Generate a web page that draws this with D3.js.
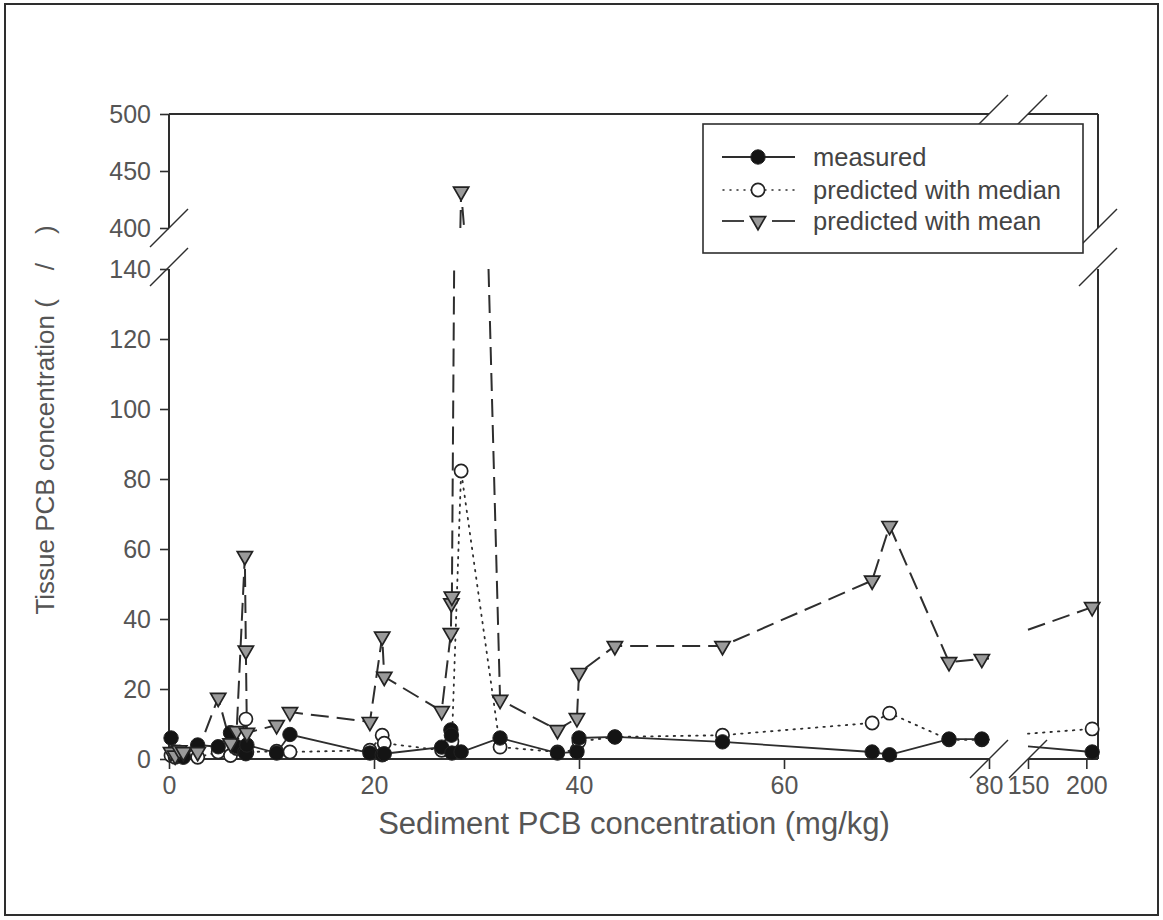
<!DOCTYPE html>
<html>
<head>
<meta charset="utf-8">
<script src="https://cdn.jsdelivr.net/npm/d3@7"></script>
<style>
  body { margin: 0; background: #fff; }
  svg { display: block; font-family: "Liberation Sans", Arial, sans-serif; }
</style>
</head>
<body>
<svg id="chart" width="1163" height="920"></svg>
<script>
// sediment PCB (mg/kg) for each sample
const sediment = [0.2, 0.6, 1.0, 1.4, 2.8, 4.8, 6.0, 6.6, 7.4, 7.5, 7.6, 10.5, 11.8, 19.6, 20.8, 21.0,
  26.6, 27.5, 27.55, 27.6, 28.5, 32.3, 37.9, 39.8, 40.0, 43.5, 54.0, 68.6, 70.3, 76.1, 79.3, 205];
// tissue PCB
const measured = [6, 2, 1, 0.5, 4, 3.5, 7.5, 3.5, 2, 1.5, 4, 1.7, 7, 1.7, 1.2, 1.5,
  3.4, 8.3, 6.8, 1.7, 2, 6, 1.7, 2, 6, 6.3, 4.9, 2, 1.2, 5.7, 5.7, 2];
const predMedian = [1, 0.5, 2, 1, 0.5, 2, 1, 3, 2.5, 11.4, 2, 2.2, 2, 2.5, 6.8, 4.5,
  2.5, 3, 4, 5, 82.3, 3.4, 2, 2.5, 5, 6.3, 6.8, 10.3, 13.1, 5.5, 5.5, 8.6];
const predMean = [2, 1, 2.5, 2, 2, 17.5, 4.5, 8, 58, 31, 7.5, 9.7, 13.4, 10.6, 35, 23.5,
  13.7, 36, 44.5, 46.4, 432, 16.9, 8.3, 11.7, 24.6, 32.3, 32.3, 51, 66.6, 27.7, 28.6, 43.4];

const xTicks = [0, 20, 40, 60, 80, 150, 200];
const yTicks = [0, 20, 40, 60, 80, 100, 120, 140, 400, 450, 500];
const legendNames = ['measured', 'predicted with median', 'predicted with mean'];

// broken axes
const xBreak = [80, 150], yBreak = [140, 400];

const svg = d3.select('#chart');
const ink = '#2e2e2e', txt = '#555';

const x = d3.scaleLinear().domain([0, 80, 150, 210]).range([169, 989, 1028, 1098]);
const y = d3.scaleLinear().domain([0, 140, 400, 500]).range([759, 269, 228, 114]);

// outer frame
svg.append('rect')
  .attr('x', 5).attr('y', 4).attr('width', 1153).attr('height', 911)
  .attr('fill', 'none').attr('stroke', ink).attr('stroke-width', 2);

// axes
const yAxis = svg.append('g')
  .attr('transform', 'translate(169,0)')
  .call(d3.axisLeft(y).tickValues(yTicks).tickSize(9).tickSizeOuter(0).tickPadding(9));
yAxis.select('.domain').remove();
yAxis.selectAll('line').attr('stroke', ink).attr('stroke-width', 1.6);
yAxis.selectAll('text').attr('fill', txt).style('font-size', '25px');

const xAxis = svg.append('g')
  .attr('transform', 'translate(0,759)')
  .call(d3.axisBottom(x).tickValues(xTicks).tickSize(10).tickSizeOuter(0).tickPadding(7));
xAxis.select('.domain').remove();
xAxis.selectAll('line').attr('stroke', ink).attr('stroke-width', 1.6);
xAxis.selectAll('text').attr('fill', txt).style('font-size', '25px');

// frame segments (with gaps at the breaks)
const frame = svg.append('g').attr('stroke', ink).attr('stroke-width', 2).attr('fill', 'none');
[[0, yBreak[0]], [yBreak[1], 500]].forEach(([a, b]) => {
  frame.append('line').attr('x1', x(0)).attr('x2', x(0)).attr('y1', y(a)).attr('y2', y(b));
  frame.append('line').attr('x1', x(210)).attr('x2', x(210)).attr('y1', y(a)).attr('y2', y(b));
});
[[0, xBreak[0]], [xBreak[1], 210]].forEach(([a, b]) => {
  frame.append('line').attr('y1', y(0)).attr('y2', y(0)).attr('x1', x(a)).attr('x2', x(b));
  frame.append('line').attr('y1', y(500)).attr('y2', y(500)).attr('x1', x(a)).attr('x2', x(b));
});

// break slashes
const slash = (cx, cy) => frame.append('line')
  .attr('x1', cx - 19).attr('y1', cy + 19).attr('x2', cx + 19).attr('y2', cy - 19)
  .attr('stroke-width', 1.4);
[y(yBreak[0]) - 2, y(yBreak[1])].forEach(cy => { slash(x(0), cy); slash(x(210), cy); });
[x(xBreak[0]), x(xBreak[1])].forEach(cx => { slash(cx, y(0)); slash(cx, y(500)); });

// line through the data, leaving out the parts inside the breaks
function brokenPath(xs, ys) {
  const p = d3.path();
  let penAt = null;
  for (let i = 0; i < xs.length - 1; i++) {
    const ax = xs[i], ay = ys[i], bx = xs[i + 1], by = ys[i + 1];
    const ts = [0, 1];
    xBreak.forEach(v => { if ((ax - v) * (bx - v) < 0) ts.push((v - ax) / (bx - ax)); });
    yBreak.forEach(v => { if ((ay - v) * (by - v) < 0) ts.push((v - ay) / (by - ay)); });
    ts.sort((a, b) => a - b);
    for (let k = 0; k < ts.length - 1; k++) {
      const t0 = ts[k], t1 = ts[k + 1], tm = (t0 + t1) / 2;
      const mx = ax + (bx - ax) * tm, my = ay + (by - ay) * tm;
      const hidden = (mx > xBreak[0] && mx < xBreak[1]) || (my > yBreak[0] && my < yBreak[1]);
      if (hidden) { penAt = null; continue; }
      const x0 = x(ax + (bx - ax) * t0), y0 = y(ay + (by - ay) * t0);
      const x1 = x(ax + (bx - ax) * t1), y1 = y(ay + (by - ay) * t1);
      if (penAt === null) p.moveTo(x0, y0);
      p.lineTo(x1, y1);
      penAt = t1;
    }
  }
  return p.toString();
}

const series = [
  { name: legendNames[1], vals: predMedian, dash: '1.5,6', cap: 'round', width: 1.8 },
  { name: legendNames[0], vals: measured, dash: null, cap: 'butt', width: 1.8 },
  { name: legendNames[2], vals: predMean, dash: '18,8', cap: 'butt', width: 2 }
];

const lines = svg.append('g').attr('fill', 'none');
series.forEach(s => {
  lines.append('path')
    .attr('d', brokenPath(sediment, s.vals))
    .attr('stroke', ink)
    .attr('stroke-width', s.width)
    .attr('stroke-linecap', s.cap)
    .attr('stroke-dasharray', s.dash);
});

const tri = d3.symbol().type(d3.symbolTriangle).size(100);
function marker(g, name) {
  if (name === legendNames[0]) {
    return g.append('circle').attr('r', 7.2).attr('fill', '#141414').attr('stroke', '#222').attr('stroke-width', 1);
  } else if (name === legendNames[1]) {
    return g.append('circle').attr('r', 6.6).attr('fill', '#fff').attr('stroke', '#222').attr('stroke-width', 1.7);
  }
  return g.append('path').attr('d', tri).attr('transform', 'rotate(180)')
    .attr('fill', '#9a9a9a').attr('stroke', '#222').attr('stroke-width', 1.7);
}

const marks = svg.append('g');
series.forEach(s => {
  sediment.forEach((sx, i) => {
    const g = marks.append('g').attr('transform', `translate(${x(sx)},${y(s.vals[i])})`);
    marker(g, s.name);
  });
});

// legend
const legend = svg.append('g');
legend.append('rect')
  .attr('x', 703).attr('y', 124).attr('width', 380).attr('height', 129)
  .attr('fill', '#fff').attr('stroke', ink).attr('stroke-width', 1.6);
const legendRows = [
  { name: legendNames[0], y: 157 },
  { name: legendNames[1], y: 190 },
  { name: legendNames[2], y: 221 }
];
legendRows.forEach(r => {
  const g = legend.append('g');
  if (r.name === legendNames[0]) {
    g.append('line').attr('x1', 722).attr('x2', 795).attr('y1', r.y).attr('y2', r.y)
      .attr('stroke', ink).attr('stroke-width', 1.8);
  } else if (r.name === legendNames[1]) {
    g.append('line').attr('x1', 723).attr('x2', 795).attr('y1', r.y).attr('y2', r.y)
      .attr('stroke', ink).attr('stroke-width', 1.5).attr('stroke-linecap', 'round')
      .attr('stroke-dasharray', '1,6');
  } else {
    g.append('line').attr('x1', 722).attr('x2', 744).attr('y1', r.y).attr('y2', r.y)
      .attr('stroke', ink).attr('stroke-width', 1.8);
    g.append('line').attr('x1', 772).attr('x2', 795).attr('y1', r.y).attr('y2', r.y)
      .attr('stroke', ink).attr('stroke-width', 1.8);
  }
  const m = g.append('g').attr('transform', `translate(758,${r.y})`);
  marker(m, r.name);
  g.append('text').attr('x', 813).attr('y', r.y).attr('dy', '0.35em')
    .attr('fill', '#444').style('font-size', '25.5px').text(r.name);
});

// axis titles
svg.append('text')
  .attr('x', 634).attr('y', 834)
  .attr('text-anchor', 'middle').attr('fill', txt)
  .style('font-size', '31px')
  .text('Sediment PCB concentration (mg/kg)');

svg.append('text')
  .attr('transform', 'translate(54,420) rotate(-90)')
  .attr('text-anchor', 'middle').attr('fill', txt)
  .style('font-size', '26px').style('white-space', 'pre')
  .text('Tissue PCB concentration (    /    )');
</script>
</body>
</html>
